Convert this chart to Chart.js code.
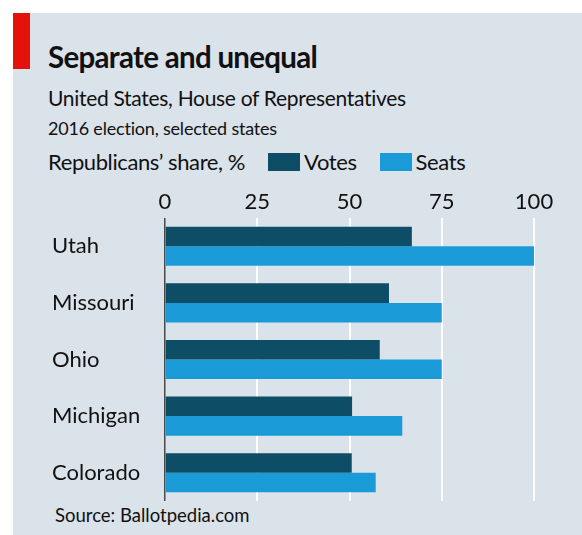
<!DOCTYPE html>
<html><head><meta charset="utf-8">
<script src="https://cdn.jsdelivr.net/npm/chart.js@4.4.1/dist/chart.umd.min.js"></script>
<style>
html,body{margin:0;padding:0;background:#fff;width:582px;height:535px;overflow:hidden;font-family:Lato, sans-serif;color:#111}
#panel{position:absolute;left:13px;top:13px;right:0;bottom:0;background:#dae2ea}
#red{position:absolute;left:13px;top:13px;width:17px;height:56px;background:#e3120b}
.t{position:absolute;white-space:nowrap;line-height:1}
#c{position:absolute;left:0;top:0}
.box{display:inline-block;width:32px;height:18px;vertical-align:-1px;margin-right:4px}
</style></head><body>
<div id="panel"></div><div id="red"></div>
<div class="t" style="left:48px;top:42px;font-size:29.5px;font-weight:bold;letter-spacing:-0.7px">Separate and unequal</div>
<div class="t" style="left:48px;top:87px;font-size:21px;letter-spacing:-0.3px">United States, House of Representatives</div>
<div class="t" style="left:48px;top:119px;font-size:18px;letter-spacing:-0.2px">2016 election, selected states</div>
<div class="t" id="leg" style="left:48px;top:151px;font-size:22px;letter-spacing:-0.4px"></div>
<div class="t" style="left:55px;top:506px;font-size:18.5px">Source: Ballotpedia.com</div>
<canvas id="c" width="582" height="535" style="width:582px;height:535px"></canvas>
<script>
const categories = ['Utah', 'Missouri', 'Ohio', 'Michigan', 'Colorado'];
const votes = [66.9, 60.7, 58.2, 50.7, 50.6];
const seats = [100, 75, 75, 64.3, 57.1];
const seriesNames = ['Votes', 'Seats'];
const seriesColors = ['#0e4d66', '#1a9bd7'];
const xTicks = [0, 25, 50, 75, 100];
const unitLabel = 'Republicans\u2019 share, %';

const leg = document.getElementById('leg');
leg.innerHTML = '<span style="margin-right:23px">' + unitLabel + '</span>' +
  seriesNames.map((n, i) => '<span style="margin-right:' + (i === 0 ? 23 : 0) + 'px"><span class="box" style="background:' + seriesColors[i] + '"></span>' + n + '</span>').join('');

new Chart(document.getElementById('c'), {
  type: 'bar',
  data: {
    labels: categories,
    datasets: [
      { label: seriesNames[0], data: votes, backgroundColor: seriesColors[0], barPercentage: 1, categoryPercentage: 0.69 },
      { label: seriesNames[1], data: seats, backgroundColor: seriesColors[1], barPercentage: 1, categoryPercentage: 0.69 }
    ]
  },
  options: {
    indexAxis: 'y',
    responsive: false,
    animation: false,
    devicePixelRatio: 1,
    layout: { padding: { left: 52, top: 178, right: 48, bottom: 34 } },
    plugins: { legend: { display: false }, tooltip: { enabled: false } },
    scales: {
      x: {
        position: 'top',
        min: 0, max: 100,
        afterBuildTicks: s => { s.ticks = xTicks.map(v => ({ value: v })); },
        afterFit: s => { s.height = 40; },
        border: { display: false },
        grid: {
          drawTicks: false,
          color: c => (c.tick && c.tick.value === 0) ? '#4a4a4a' : '#ffffff',
          lineWidth: c => (c.tick && c.tick.value === 0) ? 1.5 : 2
        },
        ticks: { color: '#111', font: { family: 'Lato', size: 22 }, padding: 3 }
      },
      y: {
        afterFit: s => { s.width = 113; },
        border: { display: false },
        grid: { display: false },
        ticks: { color: '#111', font: { family: 'Lato', size: 22 }, crossAlign: 'far' }
      }
    }
  }
});
</script>
</body></html>
